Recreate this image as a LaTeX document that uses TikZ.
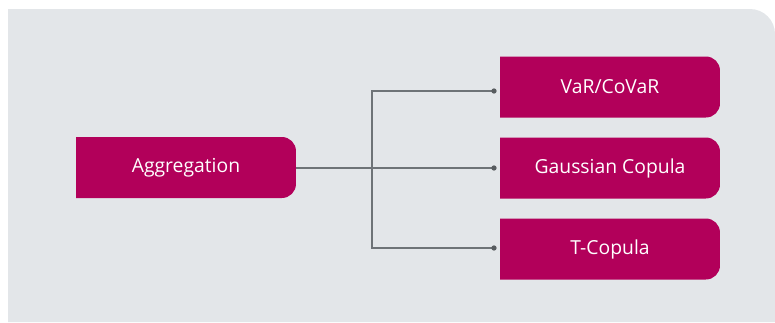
\documentclass[tikz,border=0pt]{standalone}
\usepackage{fontspec}
\setmainfont{Open Sans}
\definecolor{wine}{HTML}{B2005A}
\definecolor{panel}{HTML}{E3E6E9}
\definecolor{wire}{HTML}{6E7377}
\tikzset{
    box/.style={minimum width=4.4cm, minimum height=1.22cm, inner sep=0pt,
        text=white, font=\fontsize{11}{13}\selectfont,
        path picture={\fill[wine] (path picture bounding box.south west) -- (path picture bounding box.north west) [rounded corners=8pt] -- (path picture bounding box.north east) -- (path picture bounding box.south east) [sharp corners] -- cycle;}},
    wire/.style={draw=wire, line width=0.75pt}
}
\begin{document}
\begin{tikzpicture}[x=0.02cm, y=-0.02cm]
        \useasboundingbox (0,0) rectangle (775,322);
        % grey panel, only the top right corner is rounded
        \fill[panel] (8,322) -- (8,9) [rounded corners=0.5cm] -- (775,9) [sharp corners] -- (775,322) -- cycle;
        \node[box] (agg) at (186,167.5) {Aggregation};
        \node[box] (var) at (610,87) {VaR/CoVaR};
        \node[box] (gau) at (610,168) {Gaussian Copula};
        \node[box] (tco) at (610,249) {T-Copula};
        \coordinate (d1) at (494,91);
        \coordinate (d2) at (494,168);
        \coordinate (d3) at (494,248);
        \coordinate (fork) at (372,168);
        \draw[wire] (agg.east |- d2) -- (d2);
        \draw[wire] (d1) -| (fork) |- (d3);
        \foreach \d in {d1,d2,d3}
            \fill[wire!80!black] (\d) circle[radius=1.5pt];
\end{tikzpicture}
\end{document}
